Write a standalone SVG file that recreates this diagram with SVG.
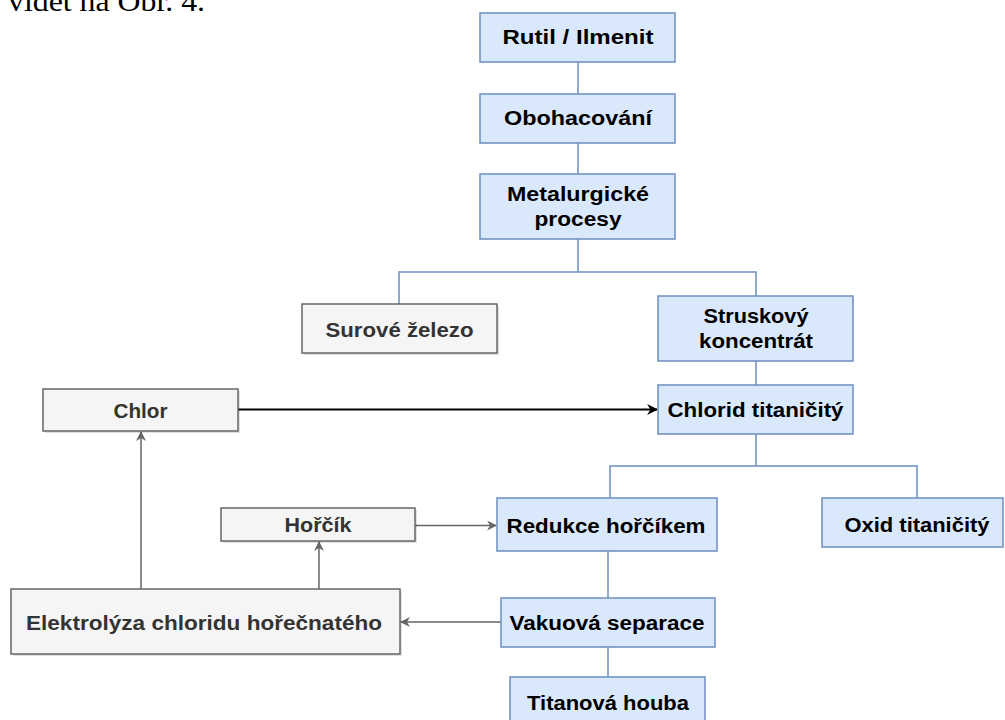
<svg xmlns="http://www.w3.org/2000/svg" width="1005" height="720" viewBox="0 0 1005 720">
<style>
.b{fill:#dae8fc;stroke:#6c8ebf;stroke-width:1.5}
.g{fill:#f5f5f5;stroke:#666666;stroke-width:1.5}
.sh{fill:#000;opacity:0.12}
.t{font-family:"Liberation Sans",Arial,sans-serif;font-weight:bold;font-size:20px;fill:#000;text-anchor:middle}
.tg{fill:#333333}
.tree{stroke:#6c8ebf;stroke-width:1.5;fill:none}
.ag{stroke:#666666;stroke-width:1.5;fill:none}
.ak{stroke:#000;stroke-width:1.8;fill:none}
.doc{font-family:"Liberation Serif","Times New Roman",serif;font-size:30px;fill:#000}
</style>
<defs>
<marker id="mg" viewBox="0 0 10 10" refX="9" refY="5" markerWidth="10" markerHeight="10" markerUnits="userSpaceOnUse" orient="auto">
<path d="M0,0 L10,5 L0,10 L3,5 Z" fill="#666666"/>
</marker>
<marker id="mk" viewBox="0 0 10 10" refX="9" refY="5" markerWidth="11" markerHeight="11" markerUnits="userSpaceOnUse" orient="auto">
<path d="M0,0 L10,5 L0,10 L3,5 Z" fill="#000"/>
</marker>
</defs>
<rect width="1005" height="720" fill="#fff"/>
<text class="doc" x="8" y="11" textLength="197" lengthAdjust="spacingAndGlyphs">vidět na Obr. 4.</text>

<g id="connectors">
<path class="tree" d="M578,62 V94"/>
<path class="tree" d="M578,143 V174"/>
<path class="tree" d="M578,239 V272 M399,304 V272 H756 V296"/>
<path class="tree" d="M756,361 V385"/>
<path class="tree" d="M756,434 V466 M610,498 V466 H917 V498"/>
<path class="tree" d="M608,551 V598"/>
<path class="tree" d="M608,647 V677"/>
<path class="ak" d="M238,409.5 H657" marker-end="url(#mk)"/>
<path class="ag" d="M415,525.5 H496" marker-end="url(#mg)"/>
<path class="ag" d="M319,589 V542" marker-end="url(#mg)"/>
<path class="ag" d="M141,589 V432" marker-end="url(#mg)"/>
<path class="ag" d="M501,622 H401" marker-end="url(#mg)"/>
</g>

<g id="rutil"><rect class="b" x="480" y="13" width="195" height="49"/><text class="t" x="578" y="44" textLength="151" lengthAdjust="spacingAndGlyphs">Rutil / Ilmenit</text></g>
<g id="obohacovani"><rect class="b" x="480" y="94" width="195" height="49"/><text class="t" x="578" y="125" textLength="148" lengthAdjust="spacingAndGlyphs">Obohacování</text></g>
<g id="metalurgicke"><rect class="b" x="480" y="174" width="195" height="65"/><text class="t" x="578" y="201" textLength="142" lengthAdjust="spacingAndGlyphs">Metalurgické</text><text class="t" x="578" y="226" textLength="87" lengthAdjust="spacingAndGlyphs">procesy</text></g>
<g id="surove"><rect class="sh" x="304" y="306" width="195" height="49"/><rect class="g" x="302" y="304" width="195" height="49"/><text class="t tg" x="399.5" y="337" textLength="148" lengthAdjust="spacingAndGlyphs">Surové železo</text></g>
<g id="struskovy"><rect class="b" x="658" y="296" width="195" height="65"/><text class="t" x="756" y="323" textLength="105" lengthAdjust="spacingAndGlyphs">Struskový</text><text class="t" x="756" y="348" textLength="114" lengthAdjust="spacingAndGlyphs">koncentrát</text></g>
<g id="chlor"><rect class="sh" x="45" y="391" width="195" height="42"/><rect class="g" x="43" y="389" width="195" height="42"/><text class="t tg" x="140.5" y="418" textLength="54" lengthAdjust="spacingAndGlyphs">Chlor</text></g>
<g id="chlorid"><rect class="b" x="658" y="385" width="195" height="49"/><text class="t" x="755.5" y="417" textLength="176" lengthAdjust="spacingAndGlyphs">Chlorid titaničitý</text></g>
<g id="horcik"><rect class="sh" x="223" y="510" width="194" height="33"/><rect class="g" x="221" y="508" width="194" height="33"/><text class="t tg" x="318" y="532" textLength="67" lengthAdjust="spacingAndGlyphs">Hořčík</text></g>
<g id="redukce"><rect class="b" x="497" y="498" width="220" height="53"/><text class="t" x="606" y="533" textLength="199" lengthAdjust="spacingAndGlyphs">Redukce hořčíkem</text></g>
<g id="oxid"><rect class="b" x="822" y="498" width="181" height="49"/><text class="t" x="917" y="532" textLength="145" lengthAdjust="spacingAndGlyphs">Oxid titaničitý</text></g>
<g id="elektrolyza"><rect class="sh" x="13" y="591" width="389" height="65"/><rect class="g" x="11" y="589" width="389" height="65"/><text class="t tg" x="204" y="630" textLength="356" lengthAdjust="spacingAndGlyphs">Elektrolýza chloridu hořečnatého</text></g>
<g id="vakuova"><rect class="b" x="501" y="598" width="214" height="49"/><text class="t" x="607" y="630" textLength="195" lengthAdjust="spacingAndGlyphs">Vakuová separace</text></g>
<g id="titanova"><rect class="b" x="510" y="677" width="195" height="52"/><text class="t" x="608" y="710" textLength="162" lengthAdjust="spacingAndGlyphs">Titanová houba</text></g>
</svg>
